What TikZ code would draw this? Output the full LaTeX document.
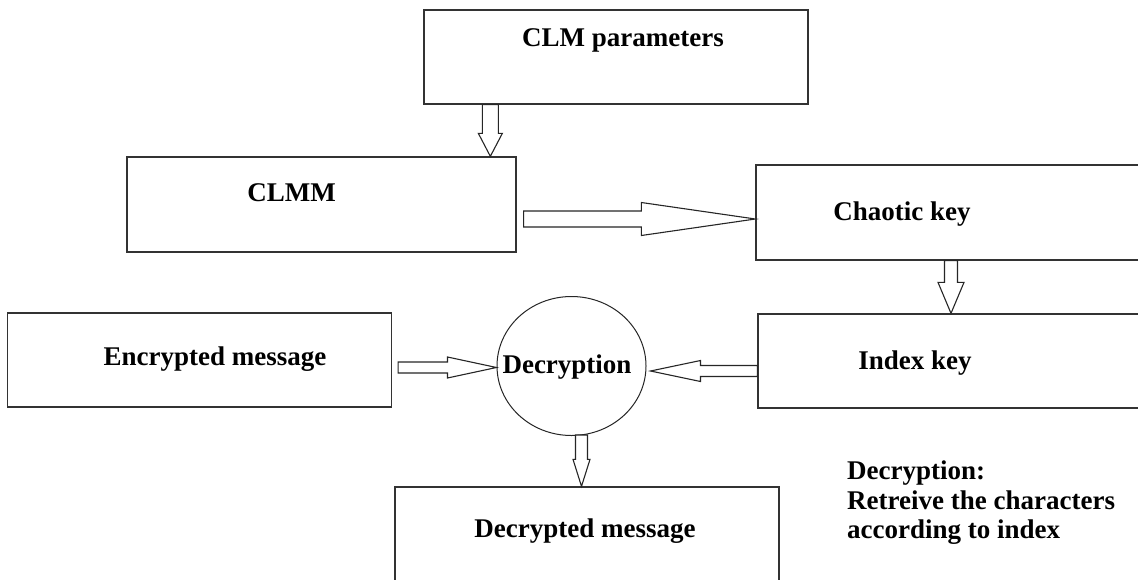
\documentclass[tikz,border=0pt]{standalone}
\usepackage{fontspec}
\setmainfont{Liberation Serif}
\usetikzlibrary{calc,shapes.geometric}

% hollow block arrow: tail, tip, shaft half width, head half width, head length
\newcommand{\hollowarrow}[5]{%
  \coordinate (ha-h) at ($(#2)!#5!(#1)$);
  \draw[hollow] ($(#1)!#3!90:(#2)$) -- ($(ha-h)!#3!90:(#2)$) -- ($(ha-h)!#4!90:(#2)$) -- (#2)
    -- ($(ha-h)!#4!-90:(#2)$) -- ($(ha-h)!#3!-90:(#2)$) -- ($(#1)!#3!-90:(#2)$) -- cycle;
}

\begin{document}
\begin{tikzpicture}[x=1pt, y=-1pt,
  box/.style={draw=black!80, line width=1.3pt, minimum width=384pt, minimum height=94pt, inner sep=0pt},
  txt/.style={font=\fontsize{27}{29.5}\selectfont\bfseries, inner sep=0pt},
  hollow/.style={draw=black!85, line width=1.1pt, fill=white, line join=miter}]
\useasboundingbox (0,0) rectangle (1138,579);

% Boxes
\node[box, label={[txt, xshift=7pt, yshift=16.5pt]center:CLM parameters}] (clmpar) at (616,57) {};
\node[box, minimum width=389pt, minimum height=95pt, label={[txt, xshift=-30pt, yshift=11.5pt]center:CLMM}] (clmm) at (321.5,204.5) {};
\node[box, minimum width=390pt, minimum height=95pt, label={[txt, xshift=-49pt, yshift=-2pt]center:Chaotic key}] (chaotic) at (951,212.5) {};
\node[box, label={[txt, xshift=15.5pt, yshift=0.5pt]center:Encrypted message}] (encrypted) at (199.5,360) {};
\node[box, minimum width=388pt, label={[txt, xshift=-37pt, yshift=-2.5pt]center:Index key}] (index) at (952,361) {};
\node[box, minimum height=95pt, label={[txt, xshift=-2pt, yshift=3pt]center:Decrypted message}] (decrypted) at (587,534.5) {};

% Decryption circle
\node[draw=black!85, line width=1pt, ellipse, minimum width=149pt, minimum height=139pt, inner sep=0pt,
  label={[txt, xshift=-4.5pt, yshift=-1pt]center:Decryption}] (dec) at (571.5,366) {};

% Arrows
\coordinate (a1s) at ($(clmpar.south west)+(67,0)$);
\coordinate (a1t) at (a1s |- clmm.north);
\hollowarrow{a1s}{a1t}{8pt}{12pt}{23pt}

\coordinate (a2s) at ($(clmm.east)+(7,14.5)$);
\coordinate (a2t) at (a2s -| chaotic.west);
\hollowarrow{a2s}{a2t}{8pt}{16.5pt}{114pt}

\coordinate (a3t) at (chaotic.south |- index.north);
\hollowarrow{chaotic.south}{a3t}{6.5pt}{13pt}{31pt}

\coordinate (a4s) at ($(encrypted.east)+(6,7.5)$);
\coordinate (a4t) at (a4s -| dec.west);
\hollowarrow{a4s}{a4t}{5.5pt}{10.5pt}{49pt}

\coordinate (a5s) at ($(index.west)+(0,10)$);
\coordinate (a5t) at ($(a5s -| dec.east)+(4,0)$);
\hollowarrow{a5s}{a5t}{5.5pt}{10.5pt}{50pt}

\coordinate (a6s) at ($(dec.south)+(10,-1)$);
\coordinate (a6t) at (a6s |- decrypted.north);
\hollowarrow{a6s}{a6t}{6pt}{8.5pt}{27pt}

% Note
\node[txt, align=left, anchor=north west] (note) at (847,461) {Decryption:\\Retreive the characters\\according to index};
\end{tikzpicture}
\end{document}
